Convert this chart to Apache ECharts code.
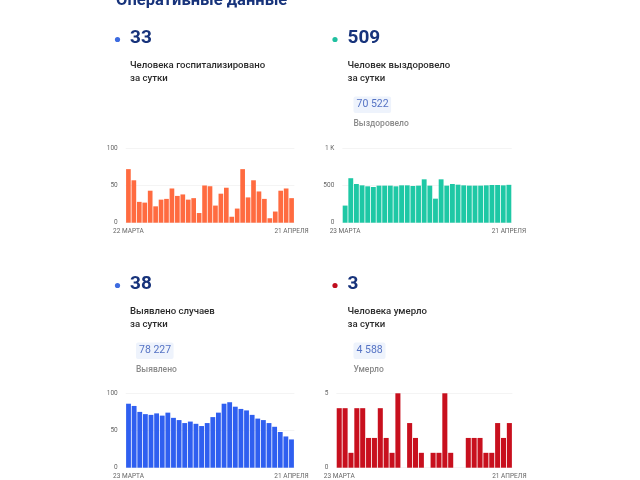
<!doctype html>
<html lang="ru">
<head>
    <meta charset="UTF-8">
    <script src="https://cdn.jsdelivr.net/npm/echarts@6/dist/echarts.min.js"></script>
    <title>Оперативные данные</title>
    <style>
        html, body { margin: 0; padding: 0; background: #fff; }
    </style>
</head>
<body>
<div id="main" style="width: 640px;height:480px;"></div>
<script type="text/javascript">
    // даты
    var daysHosp = ['22 МАРТА', '23 МАРТА', '24 МАРТА', '25 МАРТА', '26 МАРТА', '27 МАРТА', '28 МАРТА', '29 МАРТА', '30 МАРТА', '31 МАРТА',
        '1 АПРЕЛЯ', '2 АПРЕЛЯ', '3 АПРЕЛЯ', '4 АПРЕЛЯ', '5 АПРЕЛЯ', '6 АПРЕЛЯ', '7 АПРЕЛЯ', '8 АПРЕЛЯ', '9 АПРЕЛЯ', '10 АПРЕЛЯ',
        '11 АПРЕЛЯ', '12 АПРЕЛЯ', '13 АПРЕЛЯ', '14 АПРЕЛЯ', '15 АПРЕЛЯ', '16 АПРЕЛЯ', '17 АПРЕЛЯ', '18 АПРЕЛЯ', '19 АПРЕЛЯ', '20 АПРЕЛЯ',
        '21 АПРЕЛЯ'];
    var days = ['23 МАРТА', '24 МАРТА', '25 МАРТА', '26 МАРТА', '27 МАРТА', '28 МАРТА', '29 МАРТА', '30 МАРТА', '31 МАРТА',
        '1 АПРЕЛЯ', '2 АПРЕЛЯ', '3 АПРЕЛЯ', '4 АПРЕЛЯ', '5 АПРЕЛЯ', '6 АПРЕЛЯ', '7 АПРЕЛЯ', '8 АПРЕЛЯ', '9 АПРЕЛЯ', '10 АПРЕЛЯ',
        '11 АПРЕЛЯ', '12 АПРЕЛЯ', '13 АПРЕЛЯ', '14 АПРЕЛЯ', '15 АПРЕЛЯ', '16 АПРЕЛЯ', '17 АПРЕЛЯ', '18 АПРЕЛЯ', '19 АПРЕЛЯ', '20 АПРЕЛЯ',
        '21 АПРЕЛЯ'];

    // значения по дням
    var hospitalized = [72, 57, 28, 27, 43, 22, 31, 32, 46, 36, 38, 31, 33, 13, 50, 49, 23, 39, 47, 8,
        19, 72, 34, 57, 42, 32, 6, 15, 43, 46, 33];
    var recovered = [230, 598, 520, 502, 489, 480, 498, 498, 498, 489, 502, 502, 493, 498, 583,
        498, 323, 583, 498, 520, 511, 502, 498, 498, 498, 502, 507, 507, 502, 509];
    var cases = [86, 83, 75, 72, 71, 73, 70, 74, 67, 64, 60, 62, 59, 56, 60,
        68, 74, 86, 88, 82, 79, 77, 71, 66, 64, 60, 55, 48, 42, 38];
    var deaths = [4, 4, 1, 4, 4, 2, 2, 4, 2, 1, 5, 0, 3, 2, 1,
        0, 1, 1, 5, 1, 0, 0, 2, 2, 2, 1, 1, 3, 2, 3];

    // подписи на осях
    var ticks100 = [0, 50, 100];
    var ticks1k = [0, 500, 1000];
    var ticks5 = [0, 5];

    var navy = '#17337b';
    var myChart = echarts.init(document.getElementById('main'));

    function card(x, y, dotColor, value, line1, line2, total, totalLabel) {
        var items = [
            { type: 'circle', shape: { cx: x - 12.5, cy: y + 1, r: 2.6 }, style: { fill: dotColor } },
            { type: 'text', style: { x: x, y: y, text: value, font: 'bold 19px Roboto', fill: navy, verticalAlign: 'middle' } },
            { type: 'text', style: { x: x, y: y + 27, text: line1, font: '500 9.6px Roboto', fill: '#2b2b2b', verticalAlign: 'middle' } },
            { type: 'text', style: { x: x, y: y + 40.5, text: line2, font: '500 9.6px Roboto', fill: '#2b2b2b', verticalAlign: 'middle' } }
        ];
        if (total) {
            items.push({ type: 'rect', shape: { x: x + 6, y: y + 58, width: total.length * 5.6 + 4, height: 16.5, r: 2 }, style: { fill: '#eef3fc' } });
            items.push({ type: 'text', style: { x: x + 9, y: y + 66, text: total, font: '10.5px Roboto', fill: '#5573c4', verticalAlign: 'middle' } });
            items.push({ type: 'text', style: { x: x + 6, y: y + 85.5, text: totalLabel, font: '500 8.5px Roboto', fill: '#8a8a8a', verticalAlign: 'middle' } });
        }
        return items;
    }

    var graphics = [
        { type: 'text', style: { x: 116, y: 1, text: 'Оперативные данные', font: 'bold 16.5px Roboto', fill: navy, verticalAlign: 'middle' } }
    ];
    graphics = graphics
        .concat(card(130, 38.5, '#3d6be0', '33', 'Человека госпитализировано', 'за сутки'))
        .concat(card(347.5, 38.5, '#20c0a0', '509', 'Человек выздоровело', 'за сутки', '70 522', 'Выздоровело'))
        .concat(card(130, 284.5, '#3d6be0', '38', 'Выявлено случаев', 'за сутки', '78 227', 'Выявлено'))
        .concat(card(347.5, 284.5, '#c00d1e', '3', 'Человека умерло', 'за сутки', '4 588', 'Умерло'));

    var grids = [
        { left: 125.7, top: 148.3, width: 168.6, height: 74.4 },
        { left: 342.3, top: 148.3, width: 169.4, height: 74.4 },
        { left: 125.7, top: 393.3, width: 168.6, height: 74.4 },
        { left: 336.3, top: 393.3, width: 176, height: 74.4 }
    ];

    function xAxis(idx, cats) {
        return {
            type: 'category', gridIndex: idx, data: cats,
            axisLine: { show: false }, axisTick: { show: false },
            axisLabel: {
                fontSize: 6.5, color: '#666', margin: 5,
                interval: function (i) { return i === 0 || i === cats.length - 1; }
            }
        };
    }

    function yAxis(idx, ticks, fmt) {
        return {
            type: 'value', gridIndex: idx, min: ticks[0], max: ticks[ticks.length - 1],
            interval: ticks[1] - ticks[0],
            axisLine: { show: false }, axisTick: { show: false },
            splitLine: { lineStyle: { color: '#ececec', width: 0.6 } },
            axisLabel: { fontSize: 6.5, color: '#666', margin: 8, formatter: fmt }
        };
    }

    function bars(idx, data, color) {
        return {
            type: 'bar', xAxisIndex: idx, yAxisIndex: idx, data: data,
            barCategoryGap: '14%', itemStyle: { color: color }, silent: true
        };
    }

    var option = {
        animation: false,
        textStyle: { fontFamily: 'Roboto' },
        graphic: graphics,
        grid: grids,
        xAxis: [xAxis(0, daysHosp), xAxis(1, days), xAxis(2, days), xAxis(3, days)],
        yAxis: [
            yAxis(0, ticks100),
            yAxis(1, ticks1k, function (v) { return v === 1000 ? '1 K' : v; }),
            yAxis(2, ticks100),
            yAxis(3, ticks5)
        ],
        series: [
            bars(0, hospitalized, '#ff6b40'),
            bars(1, recovered, '#1ec8a5'),
            bars(2, cases, '#2f5ff0'),
            bars(3, deaths, '#c8101e')
        ]
    };

    myChart.setOption(option);
</script>
</body>
</html>
